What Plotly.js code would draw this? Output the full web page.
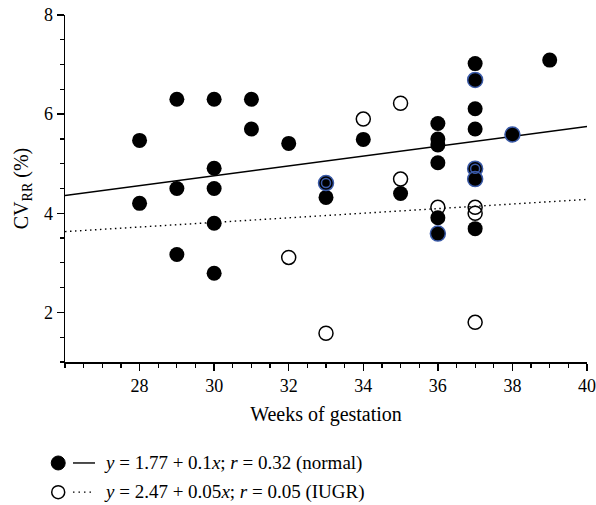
<!DOCTYPE html>
<html><head><meta charset="utf-8">
<script src="https://cdn.plot.ly/plotly-3.0.1.min.js"></script>
<style>body{margin:0;background:#fff}#c{width:596px;height:505px}</style>
</head><body><div id="c"></div>
<script>
// Normal group (filled)
const normalX = [28,28,29,29,29,30,30,30,30,30,31,31,32,33,34,35,36,36,36,36,36,37,37,37,37,39];
const normalY = [5.47,4.20,6.30,4.50,3.17,6.30,4.91,4.50,3.80,2.79,6.30,5.70,5.41,4.32,5.49,4.40,5.81,5.50,5.38,5.02,3.91,7.02,6.11,5.70,3.69,7.09];
// Normal points drawn with blue edge (overlapping)
const blueX = [33,36,37,37,37,38];
const blueY = [4.61,3.59,6.69,4.90,4.69,5.59];
// Inner rings on overlapping points
const ringX = [33,37];
const ringY = [4.61,4.90];
// IUGR group (open)
const iugrX = [32,33,34,35,35,36,37,37,37];
const iugrY = [3.11,1.58,5.90,6.22,4.69,4.12,4.12,4.00,1.80];
// Regression lines (as drawn)
const fitX = [26,40];
const normalFit = [4.36,5.75];
const iugrFit = [3.63,4.28];
const xTicks = [28,30,32,34,36,38,40];
const yTicks = [2,4,6,8];

const serif = 'Liberation Serif, Times New Roman, serif';
const traces = [
  {x:fitX,y:normalFit,mode:'lines',line:{color:'#000',width:1.4},hoverinfo:'skip'},
  {x:fitX,y:iugrFit,mode:'lines',line:{color:'#000',width:1.4,dash:'1.5px,3.5px'},hoverinfo:'skip'},
  {x:iugrX,y:iugrY,mode:'markers',marker:{symbol:'circle-open',size:14,color:'#000',line:{width:1.5,color:'#000'}}},
  {x:normalX,y:normalY,mode:'markers',marker:{symbol:'circle',size:15,color:'#000',line:{width:0}}},
  {x:blueX,y:blueY,mode:'markers',marker:{symbol:'circle',size:15,color:'#000',line:{width:1.5,color:'#3a5aa8'}}},
  {x:ringX,y:ringY,mode:'markers',marker:{symbol:'circle-open',size:9,color:'#3a5aa8',line:{width:1.5,color:'#3a5aa8'}}}
];
const axBase = {showgrid:false,zeroline:false,showline:true,linecolor:'#000',linewidth:1.5,
  ticks:'outside',ticklen:7,tickwidth:1.3,tickcolor:'#000',
  tickfont:{family:serif,size:18,color:'#000'}};
const layout = {
  width:596,height:505,margin:{l:65,r:9,t:15,b:143},
  paper_bgcolor:'#fff',plot_bgcolor:'#fff',showlegend:false,
  xaxis:Object.assign({},axBase,{range:[26,40],tickmode:'array',tickvals:xTicks,
    minor:{tickmode:'linear',tick0:26,dtick:0.5,ticks:'outside',ticklen:4,tickwidth:1.2,tickcolor:'#000'},
    title:{text:'Weeks of gestation',font:{family:serif,size:20,color:'#000'},standoff:12}}),
  yaxis:Object.assign({},axBase,{range:[1,8],tickmode:'array',tickvals:yTicks,
    minor:{tickmode:'linear',tick0:1,dtick:0.5,ticks:'outside',ticklen:4,tickwidth:1.2,tickcolor:'#000'},
    title:{text:'CV<sub>RR</sub> (%)',font:{family:serif,size:20,color:'#000'},standoff:10}}),
  shapes:[
    {type:'circle',xref:'paper',yref:'paper',xsizemode:'pixel',ysizemode:'pixel',xanchor:-0.013,yanchor:-0.291,x0:-7,x1:7,y0:-7,y1:7,fillcolor:'#000',line:{color:'#000',width:1}},
    {type:'line',xref:'paper',yref:'paper',x0:0.0153,x1:0.0575,y0:-0.291,y1:-0.291,line:{color:'#000',width:1.4}},
    {type:'circle',xref:'paper',yref:'paper',xsizemode:'pixel',ysizemode:'pixel',xanchor:-0.013,yanchor:-0.375,x0:-6.5,x1:6.5,y0:-6.5,y1:6.5,fillcolor:'rgba(0,0,0,0)',line:{color:'#000',width:1.5}},
    {type:'line',xref:'paper',yref:'paper',x0:0.0153,x1:0.0575,y0:-0.375,y1:-0.375,line:{color:'#000',width:1.4,dash:'1.5px,4px'}}
  ],
  annotations:[
    {xref:'paper',yref:'paper',x:0.071,y:-0.291,xanchor:'left',yanchor:'middle',showarrow:false,
     text:'<i>y</i> = 1.77 + 0.1<i>x</i>; <i>r</i> = 0.32 (normal)',font:{family:serif,size:19,color:'#000'}},
    {xref:'paper',yref:'paper',x:0.071,y:-0.375,xanchor:'left',yanchor:'middle',showarrow:false,
     text:'<i>y</i> = 2.47 + 0.05<i>x</i>; <i>r</i> = 0.05 (IUGR)',font:{family:serif,size:19,color:'#000'}}
  ]
};
Plotly.newPlot('c',traces,layout,{displayModeBar:false,staticPlot:true});
</script></body></html>
